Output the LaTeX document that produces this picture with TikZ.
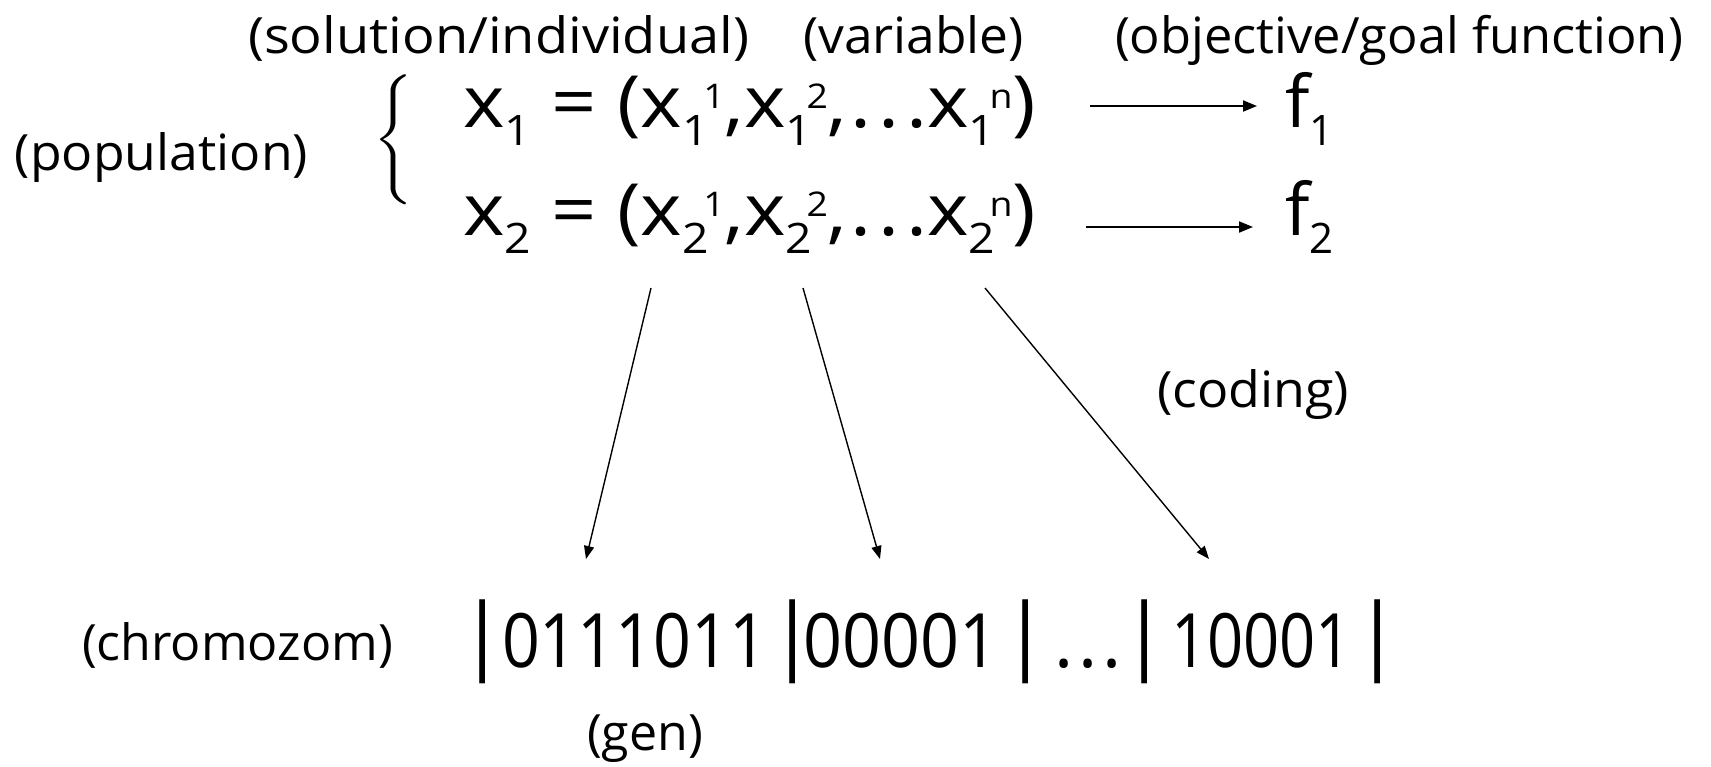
\documentclass[tikz,border=0pt]{standalone}
\usepackage{fontspec}
\setmainfont{Open Sans}
\usetikzlibrary{arrows.meta}
\newcommand{\mysub}[1]{\raisebox{-18pt}{\fontsize{42}{42}\selectfont #1}}
\newcommand{\mysup}[1]{\kern-5pt\raisebox{19pt}{\fontsize{34}{34}\selectfont #1}}
\newcommand{\vrow}[1]{x\mysub{#1} = (x\mysub{#1}\mysup{1},x\mysub{#1}\mysup{2},\kern3pt.\kern6pt.\kern6pt.x\mysub{#1}\mysup{n})}
\newcommand{\fitw}[2]{\resizebox{#1pt}{\height}{#2}}
\begin{document}
\begin{tikzpicture}[x=1pt,y=-1pt,
  lbl/.style={inner sep=0pt, outer sep=0pt, anchor=base west, font=\fontsize{50}{60}\selectfont},
  big/.style={inner sep=0pt, outer sep=0pt, anchor=base west, font=\fontsize{72}{80}\selectfont},
  digits/.style={inner sep=0pt, outer sep=0pt, anchor=base west, font=\fontsize{75}{80}\selectfont},
  barnode/.style={inner sep=0pt, outer sep=0pt, anchor=north},
  harr/.style={-{Triangle[length=14pt,width=11pt]}, line width=2pt},
  darr/.style={-{Triangle[length=13pt,width=10pt]}, line width=1.4pt}]
\useasboundingbox[fill=white] (0,0) rectangle (1711,766);
% labels
\node[lbl] (sol) at (248,53) {\fitw{501}{(solution/individual)}};
\node[lbl] (var) at (803,53) {\fitw{221}{(variable)}};
\node[lbl] (obj) at (1115,53) {\fitw{568}{(objective/goal function)}};
\node[lbl] (pop) at (15,170) {\fitw{293}{(population)}};
\node[lbl] (cod) at (1157,407) {\fitw{192}{(coding)}};
\node[lbl] (chr) at (82,660) {\fitw{311}{(chromozom)}};
\node[lbl] (gen) at (587,750) {\fitw{116}{(gen)}};
% brace and rows
\node[inner sep=0pt, anchor=north west] (br) at (373,75) {\resizebox*{40pt}{130pt}{$\Bigg\{$}};
\node[big] (r1) at (463,127) {\fitw{573}{\vrow{1}}};
\node[big] (r2) at (463,235) {\fitw{573}{\vrow{2}}};
\node[big] (f1) at (1285,127) {f\mysub{1}};
\node[big] (f2) at (1285,235) {f\mysub{2}};
% objective arrows
\draw[harr] ([xshift=54pt,yshift=21pt]r1.base east) -- ([xshift=-28pt,yshift=21pt]f1.base west);
\draw[harr] ([xshift=50pt,yshift=8pt]r2.base east) -- ([xshift=-32pt,yshift=8pt]f2.base west);
% chromosome
\node[barnode] (b1) at (483,600) {\resizebox*{!}{84pt}{|}};
\node[barnode] (b2) at (793,600) {\resizebox*{!}{84pt}{|}};
\node[barnode] (b3) at (1026,600) {\resizebox*{!}{84pt}{|}};
\node[barnode] (b4) at (1145,600) {\resizebox*{!}{84pt}{|}};
\node[barnode] (b5) at (1378,600) {\resizebox*{!}{84pt}{|}};
\node[digits] (c1) at (502,667) {\fitw{265}{0111011}};
\node[digits] (c2) at (803,667) {\fitw{195}{00001}};
\node[big] (c3) at (1054,667) {.\kern5pt.\kern5pt.};
\node[digits] (c4) at (1171,667) {\fitw{181}{10001}};
% coding arrows
\coordinate (s1) at (651,288);
\coordinate (s2) at (803,288);
\coordinate (s3) at (985,288);
\coordinate (e1) at (586,559);
\coordinate (e2) at (880,559);
\coordinate (e3) at (1209,559);
\draw[darr] (s1) -- (e1);
\draw[darr] (s2) -- (e2);
\draw[darr] (s3) -- (e3);
\end{tikzpicture}
\end{document}
